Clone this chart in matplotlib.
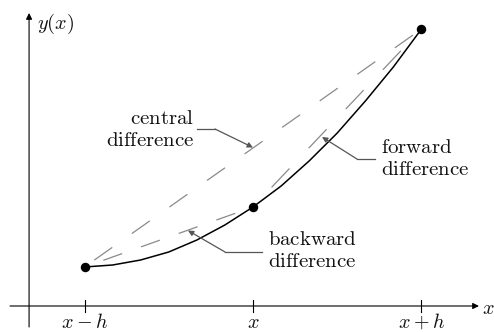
import matplotlib
matplotlib.use("Agg")
import matplotlib.pyplot as plt

# Grid points x-h, x, x+h and the function values there
x_points = [-1.0, 0.0, 1.0]
y_points = [0.39, 0.99, 2.77]
tick_labels = [r"$x-h$", r"$x$", r"$x+h$"]

# Values read along the solid curve y(x)
curve_x = [-1.0, -0.833, -0.667, -0.5, -0.333, -0.167, 0.0,
           0.167, 0.333, 0.5, 0.667, 0.833, 1.0]
curve_y = [0.39, 0.41, 0.46, 0.54, 0.66, 0.81, 0.99,
           1.20, 1.45, 1.73, 2.05, 2.39, 2.77]

plt.rcParams["mathtext.fontset"] = "cm"
plt.rcParams["lines.scale_dashes"] = False

PX = 0.72  # points per pixel at dpi 100
TEXT = "#111111"
LEADER = "#555555"
DASH = "#8a8a8a"


def dash_style(dash, gap, start_gap):
    # pattern begins with a gap of start_gap pixels
    return ((dash + gap - start_gap) * PX, (dash * PX, gap * PX))


fig = plt.figure(figsize=(4.94, 3.32), dpi=100)
ax = fig.add_axes([0, 0, 1, 1])
ax.set_xlim(-1.5015, 1.4303)
ax.set_ylim(-0.26, 3.06)
ax.axis("off")

# coordinate axes with arrow heads
arrow = dict(arrowstyle="-|>", color="black", lw=0.8, mutation_scale=9,
             shrinkA=0, shrinkB=0)
ax.annotate("", xy=(1.341, 0), xytext=(-1.442, 0), arrowprops=arrow)
ax.annotate("", xy=(-1.329, 2.93), xytext=(-1.329, -0.21), arrowprops=arrow)
ax.text(-1.282, 2.82, r"$y(x)$", fontsize=14.5, color=TEXT, va="center", ha="left")
ax.text(1.357, -0.02, r"$x$", fontsize=14.5, color=TEXT, va="center", ha="left")

# ticks and labels
for xv, lab in zip(x_points, tick_labels):
    ax.plot([xv, xv], [-0.06, 0.06], color="black", lw=0.8)
    ax.text(xv, -0.22, lab, fontsize=14.5, color=TEXT, ha="center", va="baseline")

# difference approximations (dashed chords)
ax.plot([x_points[0], x_points[2]], [y_points[0], y_points[2]], color=DASH, lw=0.9,
        linestyle=dash_style(22, 24, 12))
ax.plot([x_points[1], x_points[2]], [y_points[1], y_points[2]], color=DASH, lw=0.9,
        linestyle=dash_style(26, 28, 27))
ax.plot([x_points[0], x_points[1]], [y_points[0], y_points[1]], color=DASH, lw=0.9,
        linestyle=dash_style(20, 20, 20))

# the function
ax.plot(curve_x, curve_y, color="black", lw=1.1)
ax.plot(x_points, y_points, "o", color="black", ms=5.8)

# labels with leader lines
lead = dict(arrowstyle="-|>", color=LEADER, lw=0.9, mutation_scale=8,
            shrinkA=0, shrinkB=0)

ax.text(-0.350, 1.77, "$\\mathrm{central}$\n$\\mathrm{difference}$", fontsize=15,
        color=TEXT, ha="right", va="center", multialignment="right", linespacing=1.15)
ax.plot([-0.332, -0.2255], [1.77, 1.77], color=LEADER, lw=0.9)
ax.annotate("", xy=(0.0, 1.585), xytext=(-0.2255, 1.77), arrowprops=lead)

ax.text(0.760, 1.48, "$\\mathrm{forward}$\n$\\mathrm{difference}$", fontsize=15,
        color=TEXT, ha="left", va="center", multialignment="left", linespacing=1.15)
ax.plot([0.724, 0.617], [1.47, 1.47], color=LEADER, lw=0.9)
ax.annotate("", xy=(0.4095, 1.69), xytext=(0.617, 1.47), arrowprops=lead)

ax.text(0.089, 0.56, "$\\mathrm{backward}$\n$\\mathrm{difference}$", fontsize=15,
        color=TEXT, ha="left", va="center", multialignment="left", linespacing=1.15)
ax.plot([0.0534, -0.166], [0.54, 0.54], color=LEADER, lw=0.9)
ax.annotate("", xy=(-0.386, 0.755), xytext=(-0.166, 0.54), arrowprops=lead)

fig.savefig("out.png", dpi=100)
